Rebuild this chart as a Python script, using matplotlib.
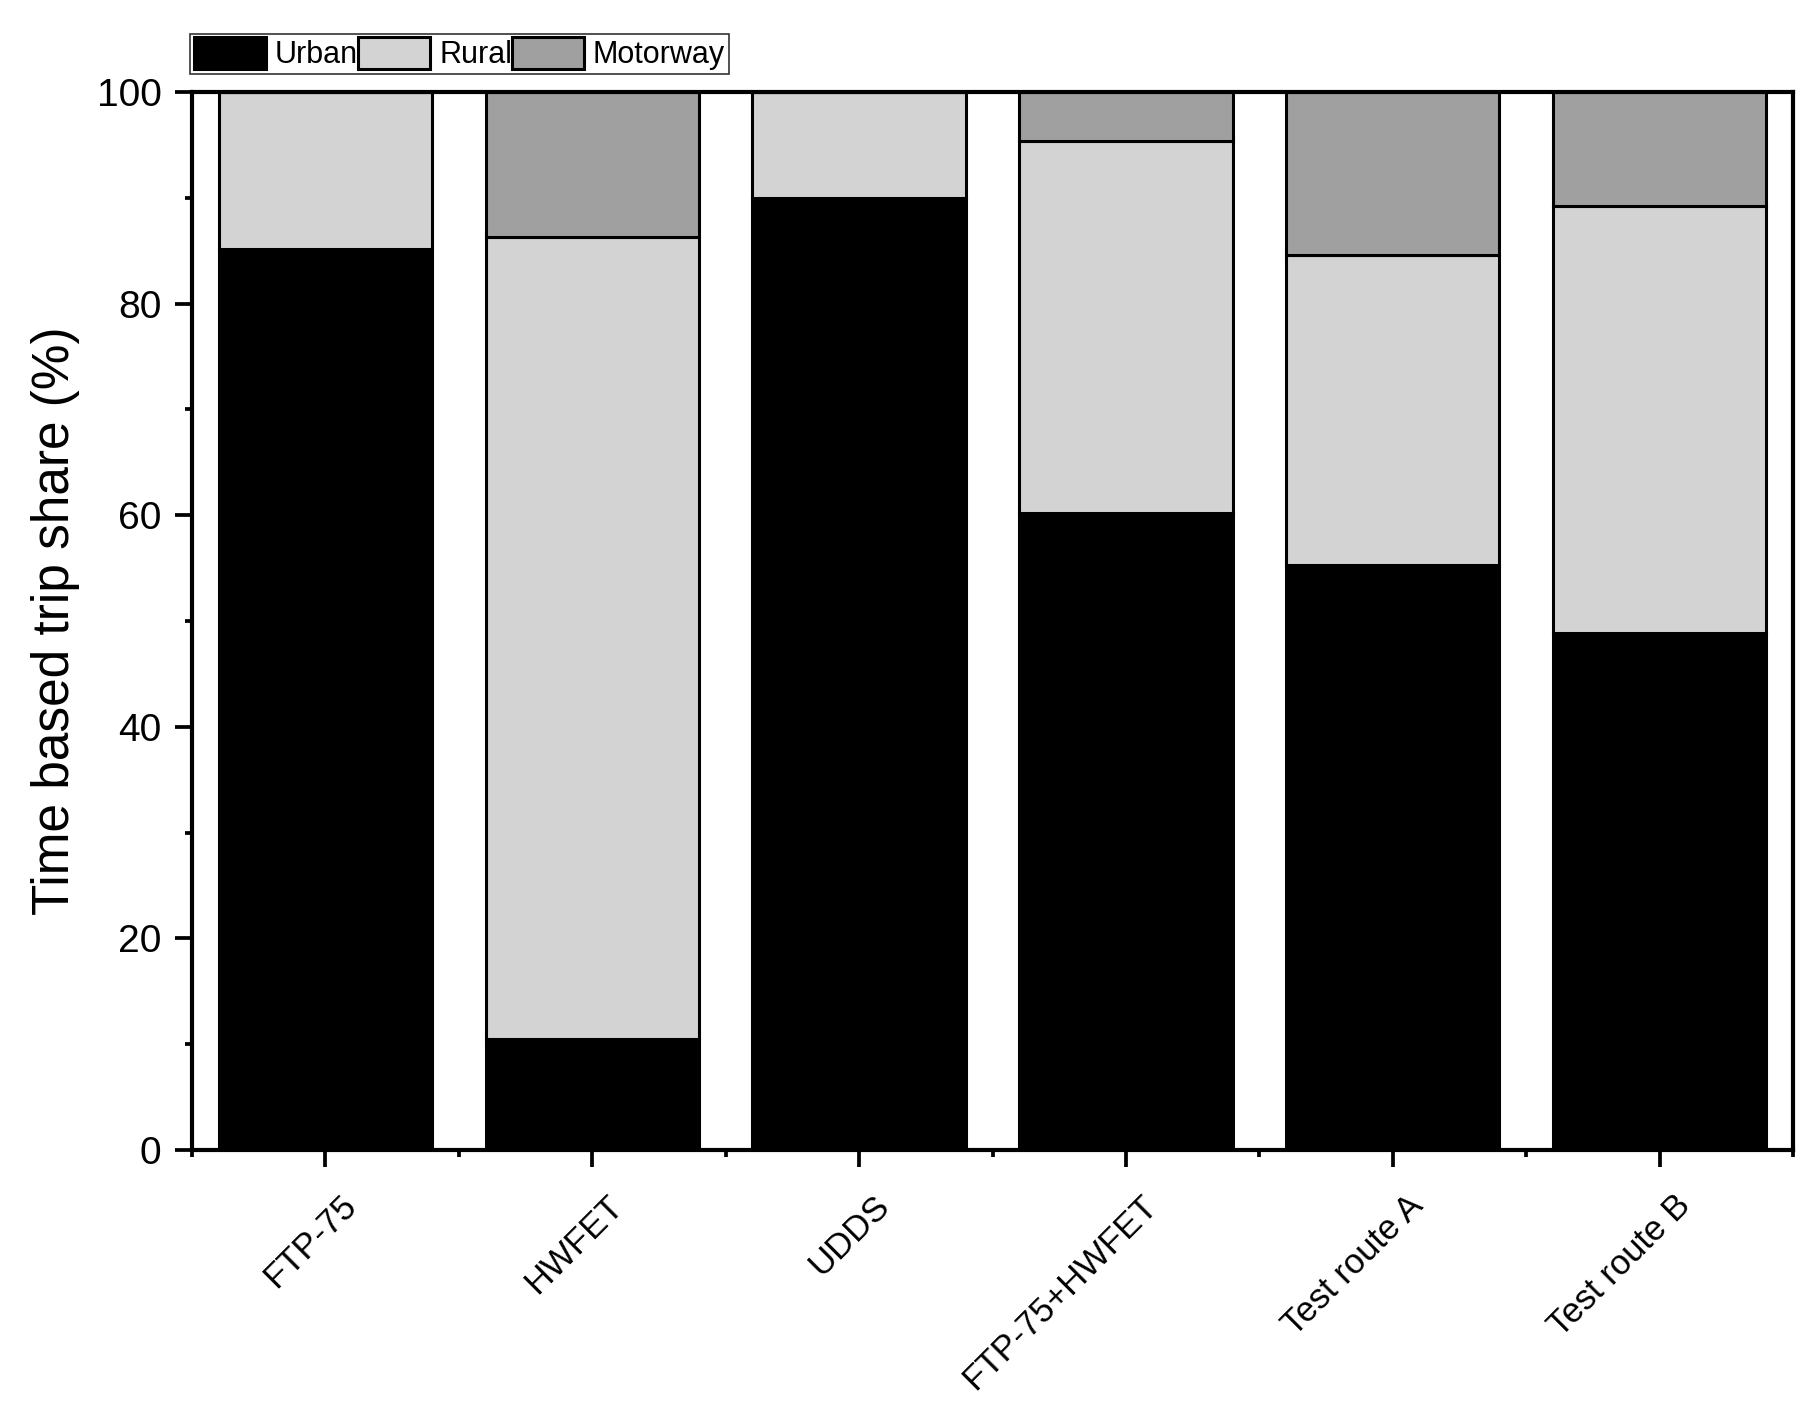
import numpy as np
import matplotlib.pyplot as plt
from matplotlib.transforms import ScaledTranslation

plt.rcParams['font.family'] = ['Liberation Sans', 'DejaVu Sans']

# trip share per driving cycle (%)
cycles = ["FTP-75", "HWFET", "UDDS", "FTP-75+HWFET", "Test route A", "Test route B"]
urban = [85.2, 10.5, 90.0, 60.2, 55.3, 48.9]
rural = [14.8, 75.8, 10.0, 35.2, 29.3, 40.3]
motorway = [0.0, 13.7, 0.0, 4.6, 15.4, 10.8]

fig = plt.figure(figsize=(18.19, 14.05), dpi=100)
ax = fig.add_axes([192/1819, 1 - 1150/1405, (1793-192)/1819, (1150-92)/1405])

x = np.arange(len(cycles))
urban = np.array(urban)
rural = np.array(rural)
motorway = np.array(motorway)

ax.bar(x, urban, width=0.8, color='black', edgecolor='black', linewidth=2.2, label='Urban')
ax.bar(x, rural, width=0.8, bottom=urban, color='#d3d3d3', edgecolor='black', linewidth=2.2, label='Rural')
ax.bar(x, motorway, width=0.8, bottom=urban + rural, color='#a0a0a0', edgecolor='black', linewidth=2.2, label='Motorway')

ax.set_xlim(-0.5, 5.5)
ax.set_ylim(0, 100)
ax.set_xticks(x)
ax.set_xticklabels(cycles, rotation=45, ha='right', va='top', rotation_mode='anchor', fontsize=25)
ax.set_xticks(np.arange(-0.5, 6, 1), minor=True)
ax.set_yticks(np.arange(0, 101, 20))
ax.set_yticks(np.arange(10, 100, 20), minor=True)
ax.tick_params(axis='y', labelsize=28, pad=10)
ax.tick_params(which='major', direction='out', length=12, width=2.7)
ax.tick_params(which='minor', direction='out', length=5, width=2.7)
ax.tick_params(axis='x', which='major', pad=16)
for s in ax.spines.values():
    s.set_linewidth(3)

# shift rotated category labels a little to the right, like the original
shift = ScaledTranslation(14/100, 0, fig.dpi_scale_trans)
for lab in ax.get_xticklabels():
    lab.set_transform(lab.get_transform() + shift)

ax.set_ylabel("Time based trip share (%)", fontsize=37, labelpad=12)

leg = ax.legend(ncol=3, loc='lower left', bbox_to_anchor=(-0.001, 1.017),
                fontsize=22, frameon=True, fancybox=False, edgecolor='black',
                handlelength=2.35, handleheight=1.2, handletextpad=0.3,
                columnspacing=0.0, borderpad=0.12, borderaxespad=0)
leg.get_frame().set_linewidth(1.2)

fig.savefig("out.png", dpi=100)
